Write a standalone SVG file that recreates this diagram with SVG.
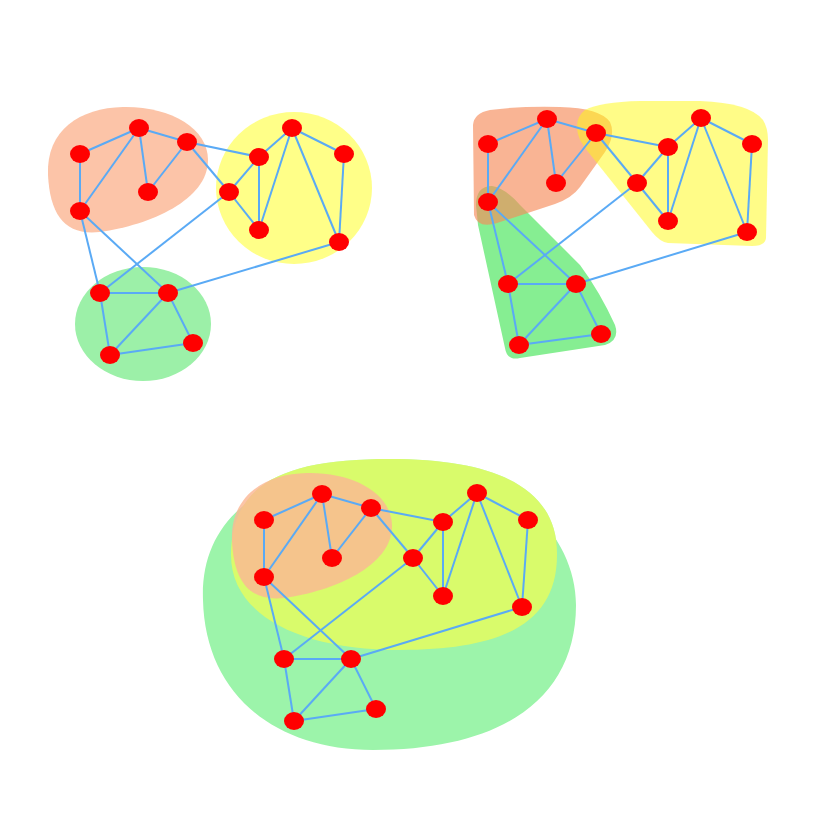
<svg xmlns="http://www.w3.org/2000/svg" xmlns:xlink="http://www.w3.org/1999/xlink" width="825" height="825" viewBox="0 0 825 825">
<style>
.e{stroke:#5aaaf5;stroke-width:2;fill:none}
.n ellipse{fill:#ff0000}
</style>
<defs>
<path id="orangeBlob" d="M48,175 C46,130 80,108 123,107 C170,106 208,128 208,160 C208,200 150,225 100,232 C65,236 50,215 48,175 Z"/>
<path id="yellowBlob3" d="M231,555 C231,480 290,459 390,459 C500,459 558,490 557,555 C557,625 500,650 400,650 C300,650 231,615 231,555 Z"/>
</defs>
<rect width="825" height="825" fill="#ffffff"/>
<g id="groups">
<g id="g1-groups">
<use xlink:href="#orangeBlob" fill="#fcc4a8"/>
<ellipse cx="294" cy="188" rx="78" ry="76" fill="#ffff88"/>
<ellipse cx="143" cy="324" rx="68" ry="57" fill="#9cf0a8"/>
</g>
<g id="g2-groups">
<path d="M476,205 Q476,186 492,186 Q505,188 520,205 L580,265 Q600,292 615,325 Q620,340 605,345 L520,358 Q507,361 505,348 L478,225 Z" fill="#86ee92"/>
<path d="M473,125 Q474,113 490,110 Q520,106 560,107 Q600,108 610,122 Q616,135 605,152 L580,187 Q572,198 555,204 L500,222 Q478,230 474,215 Z" fill="rgb(246,140,90)" fill-opacity="0.65"/>
<path d="M580,140 Q572,120 585,110 Q600,102 640,101 L700,101 Q750,103 763,120 Q768,128 768,140 L766,238 Q765,246 752,246 L668,243 Q660,242 652,232 L585,148 Z" fill="rgb(255,249,20)" fill-opacity="0.51"/>
</g>
<g id="g3-groups">
<g fill="#9cf4aa">
<path d="M203,600 C200,520 260,470 380,462 C500,455 576,530 576,605 C576,700 500,750 373,750 C270,750 205,690 203,600 Z"/>
<use xlink:href="#yellowBlob3"/>
</g>
<use xlink:href="#yellowBlob3" fill="rgb(255,255,68)" fill-opacity="0.62"/>
<use xlink:href="#orangeBlob" transform="translate(184,366)" fill="rgb(251,183,148)" fill-opacity="0.82"/>
</g>
</g>
<g id="connectors">
<line class="e" x1="80" y1="154" x2="139" y2="128"/>
<line class="e" x1="80" y1="154" x2="80" y2="211"/>
<line class="e" x1="139" y1="128" x2="80" y2="211"/>
<line class="e" x1="139" y1="128" x2="148" y2="192"/>
<line class="e" x1="139" y1="128" x2="187" y2="142"/>
<line class="e" x1="187" y1="142" x2="148" y2="192"/>
<line class="e" x1="187" y1="142" x2="259" y2="157"/>
<line class="e" x1="187" y1="142" x2="229" y2="192"/>
<line class="e" x1="259" y1="157" x2="229" y2="192"/>
<line class="e" x1="259" y1="157" x2="292" y2="128"/>
<line class="e" x1="259" y1="157" x2="259" y2="230"/>
<line class="e" x1="229" y1="192" x2="259" y2="230"/>
<line class="e" x1="292" y1="128" x2="259" y2="230"/>
<line class="e" x1="292" y1="128" x2="344" y2="154"/>
<line class="e" x1="292" y1="128" x2="339" y2="242"/>
<line class="e" x1="344" y1="154" x2="339" y2="242"/>
<line class="e" x1="80" y1="211" x2="100" y2="293"/>
<line class="e" x1="80" y1="211" x2="168" y2="293"/>
<line class="e" x1="229" y1="192" x2="100" y2="293"/>
<line class="e" x1="100" y1="293" x2="168" y2="293"/>
<line class="e" x1="100" y1="293" x2="110" y2="355"/>
<line class="e" x1="168" y1="293" x2="110" y2="355"/>
<line class="e" x1="168" y1="293" x2="193" y2="343"/>
<line class="e" x1="110" y1="355" x2="193" y2="343"/>
<line class="e" x1="339" y1="242" x2="168" y2="293"/>

<line class="e" x1="488" y1="144" x2="547" y2="119"/>
<line class="e" x1="488" y1="144" x2="488" y2="202"/>
<line class="e" x1="547" y1="119" x2="488" y2="202"/>
<line class="e" x1="547" y1="119" x2="556" y2="183"/>
<line class="e" x1="547" y1="119" x2="596" y2="133"/>
<line class="e" x1="596" y1="133" x2="556" y2="183"/>
<line class="e" x1="596" y1="133" x2="668" y2="147"/>
<line class="e" x1="596" y1="133" x2="637" y2="183"/>
<line class="e" x1="668" y1="147" x2="637" y2="183"/>
<line class="e" x1="668" y1="147" x2="701" y2="118"/>
<line class="e" x1="668" y1="147" x2="668" y2="221"/>
<line class="e" x1="637" y1="183" x2="668" y2="221"/>
<line class="e" x1="701" y1="118" x2="668" y2="221"/>
<line class="e" x1="701" y1="118" x2="752" y2="144"/>
<line class="e" x1="701" y1="118" x2="747" y2="232"/>
<line class="e" x1="752" y1="144" x2="747" y2="232"/>
<line class="e" x1="488" y1="202" x2="508" y2="284"/>
<line class="e" x1="488" y1="202" x2="576" y2="284"/>
<line class="e" x1="637" y1="183" x2="508" y2="284"/>
<line class="e" x1="508" y1="284" x2="576" y2="284"/>
<line class="e" x1="508" y1="284" x2="519" y2="345"/>
<line class="e" x1="576" y1="284" x2="519" y2="345"/>
<line class="e" x1="576" y1="284" x2="601" y2="334"/>
<line class="e" x1="519" y1="345" x2="601" y2="334"/>
<line class="e" x1="747" y1="232" x2="576" y2="284"/>

<line class="e" x1="264" y1="520" x2="322" y2="494"/>
<line class="e" x1="264" y1="520" x2="264" y2="577"/>
<line class="e" x1="322" y1="494" x2="264" y2="577"/>
<line class="e" x1="322" y1="494" x2="332" y2="558"/>
<line class="e" x1="322" y1="494" x2="371" y2="508"/>
<line class="e" x1="371" y1="508" x2="332" y2="558"/>
<line class="e" x1="371" y1="508" x2="443" y2="522"/>
<line class="e" x1="371" y1="508" x2="413" y2="558"/>
<line class="e" x1="443" y1="522" x2="413" y2="558"/>
<line class="e" x1="443" y1="522" x2="477" y2="493"/>
<line class="e" x1="443" y1="522" x2="443" y2="596"/>
<line class="e" x1="413" y1="558" x2="443" y2="596"/>
<line class="e" x1="477" y1="493" x2="443" y2="596"/>
<line class="e" x1="477" y1="493" x2="528" y2="520"/>
<line class="e" x1="477" y1="493" x2="522" y2="607"/>
<line class="e" x1="528" y1="520" x2="522" y2="607"/>
<line class="e" x1="264" y1="577" x2="284" y2="659"/>
<line class="e" x1="264" y1="577" x2="351" y2="659"/>
<line class="e" x1="413" y1="558" x2="284" y2="659"/>
<line class="e" x1="284" y1="659" x2="351" y2="659"/>
<line class="e" x1="284" y1="659" x2="294" y2="721"/>
<line class="e" x1="351" y1="659" x2="294" y2="721"/>
<line class="e" x1="351" y1="659" x2="376" y2="709"/>
<line class="e" x1="294" y1="721" x2="376" y2="709"/>
<line class="e" x1="522" y1="607" x2="351" y2="659"/>
</g>
<g id="nodes">
<g id="g1-a" class="n"><ellipse cx="80" cy="154" rx="10" ry="9"/></g>
<g id="g1-b" class="n"><ellipse cx="139" cy="128" rx="10" ry="9"/></g>
<g id="g1-c" class="n"><ellipse cx="187" cy="142" rx="10" ry="9"/></g>
<g id="g1-d" class="n"><ellipse cx="148" cy="192" rx="10" ry="9"/></g>
<g id="g1-e" class="n"><ellipse cx="80" cy="211" rx="10" ry="9"/></g>
<g id="g1-f" class="n"><ellipse cx="259" cy="157" rx="10" ry="9"/></g>
<g id="g1-g" class="n"><ellipse cx="229" cy="192" rx="10" ry="9"/></g>
<g id="g1-h" class="n"><ellipse cx="292" cy="128" rx="10" ry="9"/></g>
<g id="g1-i" class="n"><ellipse cx="344" cy="154" rx="10" ry="9"/></g>
<g id="g1-j" class="n"><ellipse cx="259" cy="230" rx="10" ry="9"/></g>
<g id="g1-k" class="n"><ellipse cx="339" cy="242" rx="10" ry="9"/></g>
<g id="g1-l" class="n"><ellipse cx="100" cy="293" rx="10" ry="9"/></g>
<g id="g1-m" class="n"><ellipse cx="168" cy="293" rx="10" ry="9"/></g>
<g id="g1-n" class="n"><ellipse cx="110" cy="355" rx="10" ry="9"/></g>
<g id="g1-o" class="n"><ellipse cx="193" cy="343" rx="10" ry="9"/></g>

<g id="g2-a" class="n"><ellipse cx="488" cy="144" rx="10" ry="9"/></g>
<g id="g2-b" class="n"><ellipse cx="547" cy="119" rx="10" ry="9"/></g>
<g id="g2-c" class="n"><ellipse cx="596" cy="133" rx="10" ry="9"/></g>
<g id="g2-d" class="n"><ellipse cx="556" cy="183" rx="10" ry="9"/></g>
<g id="g2-e" class="n"><ellipse cx="488" cy="202" rx="10" ry="9"/></g>
<g id="g2-f" class="n"><ellipse cx="668" cy="147" rx="10" ry="9"/></g>
<g id="g2-g" class="n"><ellipse cx="637" cy="183" rx="10" ry="9"/></g>
<g id="g2-h" class="n"><ellipse cx="701" cy="118" rx="10" ry="9"/></g>
<g id="g2-i" class="n"><ellipse cx="752" cy="144" rx="10" ry="9"/></g>
<g id="g2-j" class="n"><ellipse cx="668" cy="221" rx="10" ry="9"/></g>
<g id="g2-k" class="n"><ellipse cx="747" cy="232" rx="10" ry="9"/></g>
<g id="g2-l" class="n"><ellipse cx="508" cy="284" rx="10" ry="9"/></g>
<g id="g2-m" class="n"><ellipse cx="576" cy="284" rx="10" ry="9"/></g>
<g id="g2-n" class="n"><ellipse cx="519" cy="345" rx="10" ry="9"/></g>
<g id="g2-o" class="n"><ellipse cx="601" cy="334" rx="10" ry="9"/></g>

<g id="g3-a" class="n"><ellipse cx="264" cy="520" rx="10" ry="9"/></g>
<g id="g3-b" class="n"><ellipse cx="322" cy="494" rx="10" ry="9"/></g>
<g id="g3-c" class="n"><ellipse cx="371" cy="508" rx="10" ry="9"/></g>
<g id="g3-d" class="n"><ellipse cx="332" cy="558" rx="10" ry="9"/></g>
<g id="g3-e" class="n"><ellipse cx="264" cy="577" rx="10" ry="9"/></g>
<g id="g3-f" class="n"><ellipse cx="443" cy="522" rx="10" ry="9"/></g>
<g id="g3-g" class="n"><ellipse cx="413" cy="558" rx="10" ry="9"/></g>
<g id="g3-h" class="n"><ellipse cx="477" cy="493" rx="10" ry="9"/></g>
<g id="g3-i" class="n"><ellipse cx="528" cy="520" rx="10" ry="9"/></g>
<g id="g3-j" class="n"><ellipse cx="443" cy="596" rx="10" ry="9"/></g>
<g id="g3-k" class="n"><ellipse cx="522" cy="607" rx="10" ry="9"/></g>
<g id="g3-l" class="n"><ellipse cx="284" cy="659" rx="10" ry="9"/></g>
<g id="g3-m" class="n"><ellipse cx="351" cy="659" rx="10" ry="9"/></g>
<g id="g3-n" class="n"><ellipse cx="294" cy="721" rx="10" ry="9"/></g>
<g id="g3-o" class="n"><ellipse cx="376" cy="709" rx="10" ry="9"/></g>
</g>
</svg>
